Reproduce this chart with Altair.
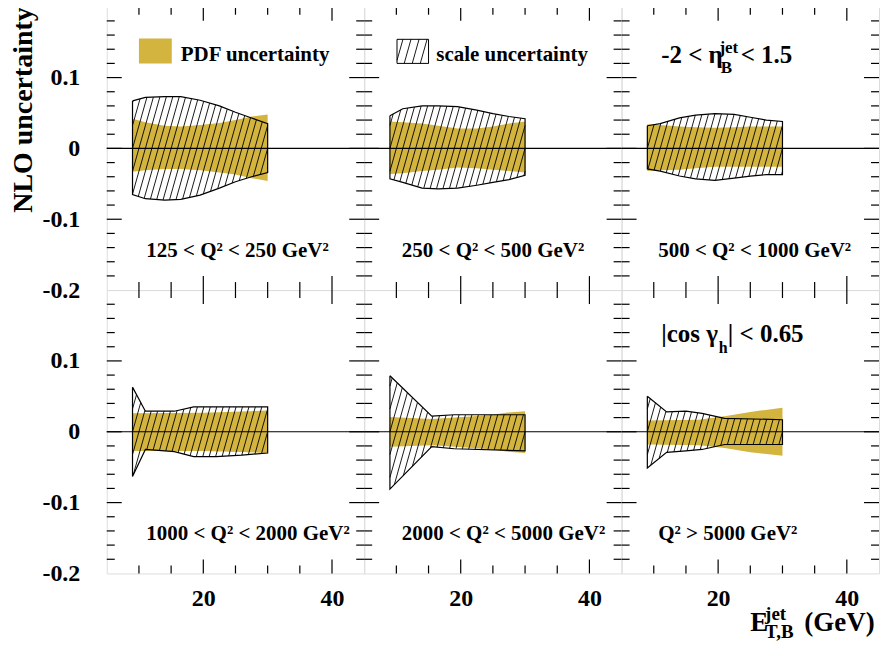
import altair as alt
import pandas as pd
import numpy as np

FONT = "Liberation Serif"
GOLD = "#d3b43f"
W, H = 258, 284

# ---------------- data (row-major panels) ----------------
q2_labels = ["125 < Q² < 250 GeV²", "250 < Q² < 500 GeV²", "500 < Q² < 1000 GeV²",
             "1000 < Q² < 2000 GeV²", "2000 < Q² < 5000 GeV²", "Q² > 5000 GeV²"]
q2_label_x = [11.15, 10.85, 10.7, 11.15, 10.85, 10.7]
q2_label_y = -0.153

# scale uncertainty band (hatched)
scale_x = [
    [9, 11, 14, 16.5, 19.5, 22.5, 25, 27.5, 30],
    [9, 11, 14, 16.5, 19.5, 22.5, 25, 27.5, 30],
    [9, 11, 14, 16.5, 19.5, 22.5, 25, 27.5, 30],
    [9, 11, 15.5, 18.5, 22, 26, 30],
    [9, 15.5, 19, 30],
    [9, 12, 15, 17.5, 21, 30],
]
scale_up = [
    [0.067, 0.072, 0.073, 0.073, 0.068, 0.060, 0.051, 0.043, 0.035],
    [0.046, 0.056, 0.060, 0.060, 0.059, 0.054, 0.049, 0.045, 0.042],
    [0.032, 0.035, 0.043, 0.047, 0.049, 0.048, 0.044, 0.040, 0.038],
    [0.063, 0.029, 0.029, 0.035, 0.035, 0.035, 0.035],
    [0.079, 0.022, 0.024, 0.024],
    [0.050, 0.028, 0.029, 0.026, 0.019, 0.017],
]
scale_dn = [
    [-0.065, -0.071, -0.073, -0.072, -0.066, -0.056, -0.047, -0.040, -0.034],
    [-0.043, -0.048, -0.056, -0.057, -0.056, -0.052, -0.048, -0.044, -0.038],
    [-0.029, -0.032, -0.039, -0.043, -0.045, -0.042, -0.039, -0.037, -0.037],
    [-0.063, -0.025, -0.028, -0.035, -0.035, -0.033, -0.030],
    [-0.081, -0.021, -0.024, -0.027],
    [-0.051, -0.029, -0.027, -0.025, -0.018, -0.018],
]

# PDF uncertainty band (filled)
pdf_x = [
    [9, 11, 14, 16.5, 19.5, 22.5, 25, 27.5, 30],
    [9, 11, 14, 16.5, 19.5, 22.5, 25, 27.5, 30],
    [9, 11, 14, 16.5, 19.5, 22.5, 25, 27.5, 30],
    [9, 20, 30],
    [9, 15.5, 22, 25, 27, 30],
    [9, 17, 21, 25, 30],
]
pdf_up = [
    [0.042, 0.037, 0.032, 0.031, 0.033, 0.036, 0.040, 0.045, 0.048],
    [0.038, 0.037, 0.035, 0.032, 0.028, 0.028, 0.031, 0.035, 0.038],
    [0.034, 0.033, 0.031, 0.030, 0.029, 0.030, 0.031, 0.031, 0.031],
    [0.026, 0.027, 0.030],
    [0.021, 0.018, 0.022, 0.024, 0.027, 0.029],
    [0.016, 0.017, 0.022, 0.028, 0.034],
]
pdf_dn = [
    [-0.033, -0.031, -0.029, -0.029, -0.031, -0.034, -0.037, -0.042, -0.046],
    [-0.036, -0.035, -0.032, -0.030, -0.027, -0.028, -0.030, -0.032, -0.034],
    [-0.032, -0.031, -0.030, -0.028, -0.026, -0.026, -0.026, -0.026, -0.026],
    [-0.027, -0.027, -0.030],
    [-0.021, -0.019, -0.023, -0.025, -0.028, -0.030],
    [-0.018, -0.019, -0.023, -0.029, -0.034],
]

# legend boxes (data coords)
legend_pdf_box = {"x": 10.0, "x2": 15.1, "y": 0.120, "y2": 0.155}
legend_scale_box = {"x": 10.1, "x2": 15.0, "y": 0.120, "y2": 0.154}

# annotations: panel, x, y, text, size
ann_panel = [0, 1, 2, 2, 2, 2, 5, 5, 5]
ann_x = [16.5, 16.2, 11.15, 20.2, 20.4, 23.5, 11.15, 20.1, 21.5]
ann_y = [0.124, 0.124, 0.121, 0.135, 0.107, 0.121, 0.127, 0.111, 0.127]
ann_text = ["PDF uncertainty", "scale uncertainty", "-2 < η", "jet", "B", "< 1.5",
            "|cos γ", "h", "| < 0.65"]
ann_size = [21, 21, 25, 17, 17, 25, 25, 16, 25]

# x-axis title pieces (bottom-right panel)
xt_x = [25.0, 27.3, 27.3, 33.4]
xt_ypx = [342, 331, 349, 342]
xt_text = ["E", "jet", "T,B", "(GeV)"]
xt_size = [27, 19, 19, 27]

# axis ticks
x_major = [20, 40]
x_minor = [10, 15, 25, 30, 35]
y_major = [-0.1, 0.0, 0.1]
y_minor = [-0.18, -0.16, -0.14, -0.12, -0.08, -0.06, -0.04, -0.02,
           0.02, 0.04, 0.06, 0.08, 0.12, 0.14, 0.16, 0.18]
x_label_vals = [20, 40]
y_label_vals = [-0.2, -0.1, 0.0, 0.1]

# hatch style (x data units per y unit along hatch lines, spacing in x units)
HATCH_K = 31.0
HATCH_SP = 1.0


def hatch_segments(xs, lo, hi, spacing=HATCH_SP, k=HATCH_K):
    xg = np.linspace(xs[0], xs[-1], 4000)
    up = np.interp(xg, xs, hi)
    dn = np.interp(xg, xs, lo)
    start = np.floor(xs[0] - k * max(hi)) - spacing
    stop = xs[-1] - k * min(lo) + spacing
    rows = []
    for x0 in np.arange(start, stop, spacing):
        yl = (xg - x0) / k
        idx = np.nonzero((yl >= dn) & (yl <= up))[0]
        if len(idx) < 2:
            continue
        i0, i1 = idx[0], idx[-1]
        rows.append({"x": xg[i0], "y": yl[i0], "x2": xg[i1], "y2": yl[i1]})
    return pd.DataFrame(rows)


def outline_df(xs, lo, hi):
    px = list(xs) + list(xs[::-1]) + [xs[0]]
    py = list(hi) + list(lo[::-1]) + [hi[0]]
    return pd.DataFrame({"x": px, "y": py, "o": list(range(len(px)))})


xscale = alt.Scale(domain=[5, 45], nice=False, zero=False)
yscale = alt.Scale(domain=[-0.2, 0.2], nice=False, zero=False)


def build_panel(i):
    row, col = divmod(i, 3)
    if row == 1:
        xaxis = alt.Axis(values=x_label_vals, ticks=False, domain=False, grid=False,
                         labelFont=FONT, labelFontSize=24, labelFontWeight="bold",
                         labelColor="black", labelPadding=13, labelFlush=False, title=None)
    else:
        xaxis = None
    if col == 0:
        yaxis = alt.Axis(values=y_label_vals, ticks=False, domain=False, grid=False,
                         labelFont=FONT, labelFontSize=24, labelFontWeight="bold",
                         labelColor="black", labelPadding=27, labelFlush=False,
                         labelExpr="datum.value == 0 ? '0' : replace(datum.label, '−', '-')",
                         title="NLO uncertainty" if row == 0 else None,
                         titleFont=FONT, titleFontSize=28, titleFontWeight="bold",
                         titleColor="black", titleAnchor="end", titlePadding=4)
    else:
        yaxis = None

    def X(f):
        return alt.X(f, type="quantitative", scale=xscale, axis=xaxis)

    def Y(f):
        return alt.Y(f, type="quantitative", scale=yscale, axis=yaxis)

    layers = []
    pdf_df = pd.DataFrame({"x": pdf_x[i], "lo": pdf_dn[i], "hi": pdf_up[i]})
    layers.append(alt.Chart(pdf_df).mark_area(color=GOLD, opacity=1).encode(
        x=X("x"), y=Y("lo"), y2=alt.Y2("hi")))

    hdf = hatch_segments(scale_x[i], scale_dn[i], scale_up[i])
    layers.append(alt.Chart(hdf).mark_rule(color="black", strokeWidth=0.9).encode(
        x=X("x"), y=Y("y"), x2=alt.X2("x2"), y2=alt.Y2("y2")))

    odf = outline_df(scale_x[i], scale_dn[i], scale_up[i])
    layers.append(alt.Chart(odf).mark_line(color="black", strokeWidth=1.2).encode(
        x=X("x"), y=Y("y"), order=alt.Order("o:Q")))

    if i == 0:
        ldf = pd.DataFrame([legend_pdf_box])
        layers.append(alt.Chart(ldf).mark_rect(color=GOLD, opacity=1).encode(
            x=X("x"), x2=alt.X2("x2"), y=Y("y"), y2=alt.Y2("y2")))
    if i == 1:
        b = legend_scale_box
        ldf = pd.DataFrame([b])
        layers.append(alt.Chart(ldf).mark_rect(fill="white", stroke="black", strokeWidth=1).encode(
            x=X("x"), x2=alt.X2("x2"), y=Y("y"), y2=alt.Y2("y2")))
        lh = hatch_segments([b["x"], b["x2"]], [b["y"], b["y"]], [b["y2"], b["y2"]], spacing=1.25)
        layers.append(alt.Chart(lh).mark_rule(color="black", strokeWidth=0.9).encode(
            x=X("x"), y=Y("y"), x2=alt.X2("x2"), y2=alt.Y2("y2")))

    zdf = pd.DataFrame({"y": [0.0]})
    layers.append(alt.Chart(zdf).mark_rule(color="black", strokeWidth=1.2).encode(y=Y("y")))

    # ticks (inward, on all four sides)
    ymaj = pd.DataFrame({"v": y_major})
    ymin = pd.DataFrame({"v": y_minor})
    xmaj = pd.DataFrame({"v": x_major})
    xmin = pd.DataFrame({"v": x_minor})
    tk = dict(color="black", strokeWidth=1.2)
    for d, ln in ((ymaj, 15), (ymin, 8)):
        layers.append(alt.Chart(d).mark_rule(**tk).encode(
            y=Y("v"), x=alt.value(0), x2=alt.value(ln)))
        layers.append(alt.Chart(d).mark_rule(**tk).encode(
            y=Y("v"), x=alt.value(W - ln), x2=alt.value(W)))
    for d, ln in ((xmaj, 14), (xmin, 8)):
        layers.append(alt.Chart(d).mark_rule(**tk).encode(
            x=X("v"), y=alt.value(H - ln), y2=alt.value(H)))
        layers.append(alt.Chart(d).mark_rule(**tk).encode(
            x=X("v"), y=alt.value(0), y2=alt.value(ln)))

    # texts
    tdf = pd.DataFrame({"x": [q2_label_x[i]], "y": [q2_label_y], "t": [q2_labels[i]], "s": [21]})
    sel = [j for j, p in enumerate(ann_panel) if p == i]
    if sel:
        tdf = pd.concat([tdf, pd.DataFrame({
            "x": [ann_x[j] for j in sel], "y": [ann_y[j] for j in sel],
            "t": [ann_text[j] for j in sel], "s": [ann_size[j] for j in sel]})], ignore_index=True)
    layers.append(alt.Chart(tdf).mark_text(font=FONT, fontWeight="bold", color="black",
                                           align="left", baseline="alphabetic").encode(
        x=X("x"), y=Y("y"), text="t:N", size=alt.Size("s:Q", scale=None)))

    if i == 5:
        xdf = pd.DataFrame({"x": xt_x, "yp": xt_ypx, "t": xt_text, "s": xt_size})
        for j in range(len(xt_x)):
            layers.append(alt.Chart(xdf.iloc[[j]]).mark_text(
                font=FONT, fontWeight="bold", color="black", align="left",
                baseline="alphabetic").encode(
                x=X("x"), y=alt.value(int(xt_ypx[j])), text="t:N",
                size=alt.Size("s:Q", scale=None)))

    return alt.layer(*layers).properties(width=W, height=H)


panels = [build_panel(i) for i in range(6)]
chart = alt.concat(*panels, columns=3, spacing=0, bounds="flush").properties(
    padding={"left": 1, "top": -4, "right": 0, "bottom": 0}
).configure_view(stroke="black", strokeWidth=1.5).configure(background="white")

chart.save("out.html", embed_options={"renderer": "svg", "actions": False})
